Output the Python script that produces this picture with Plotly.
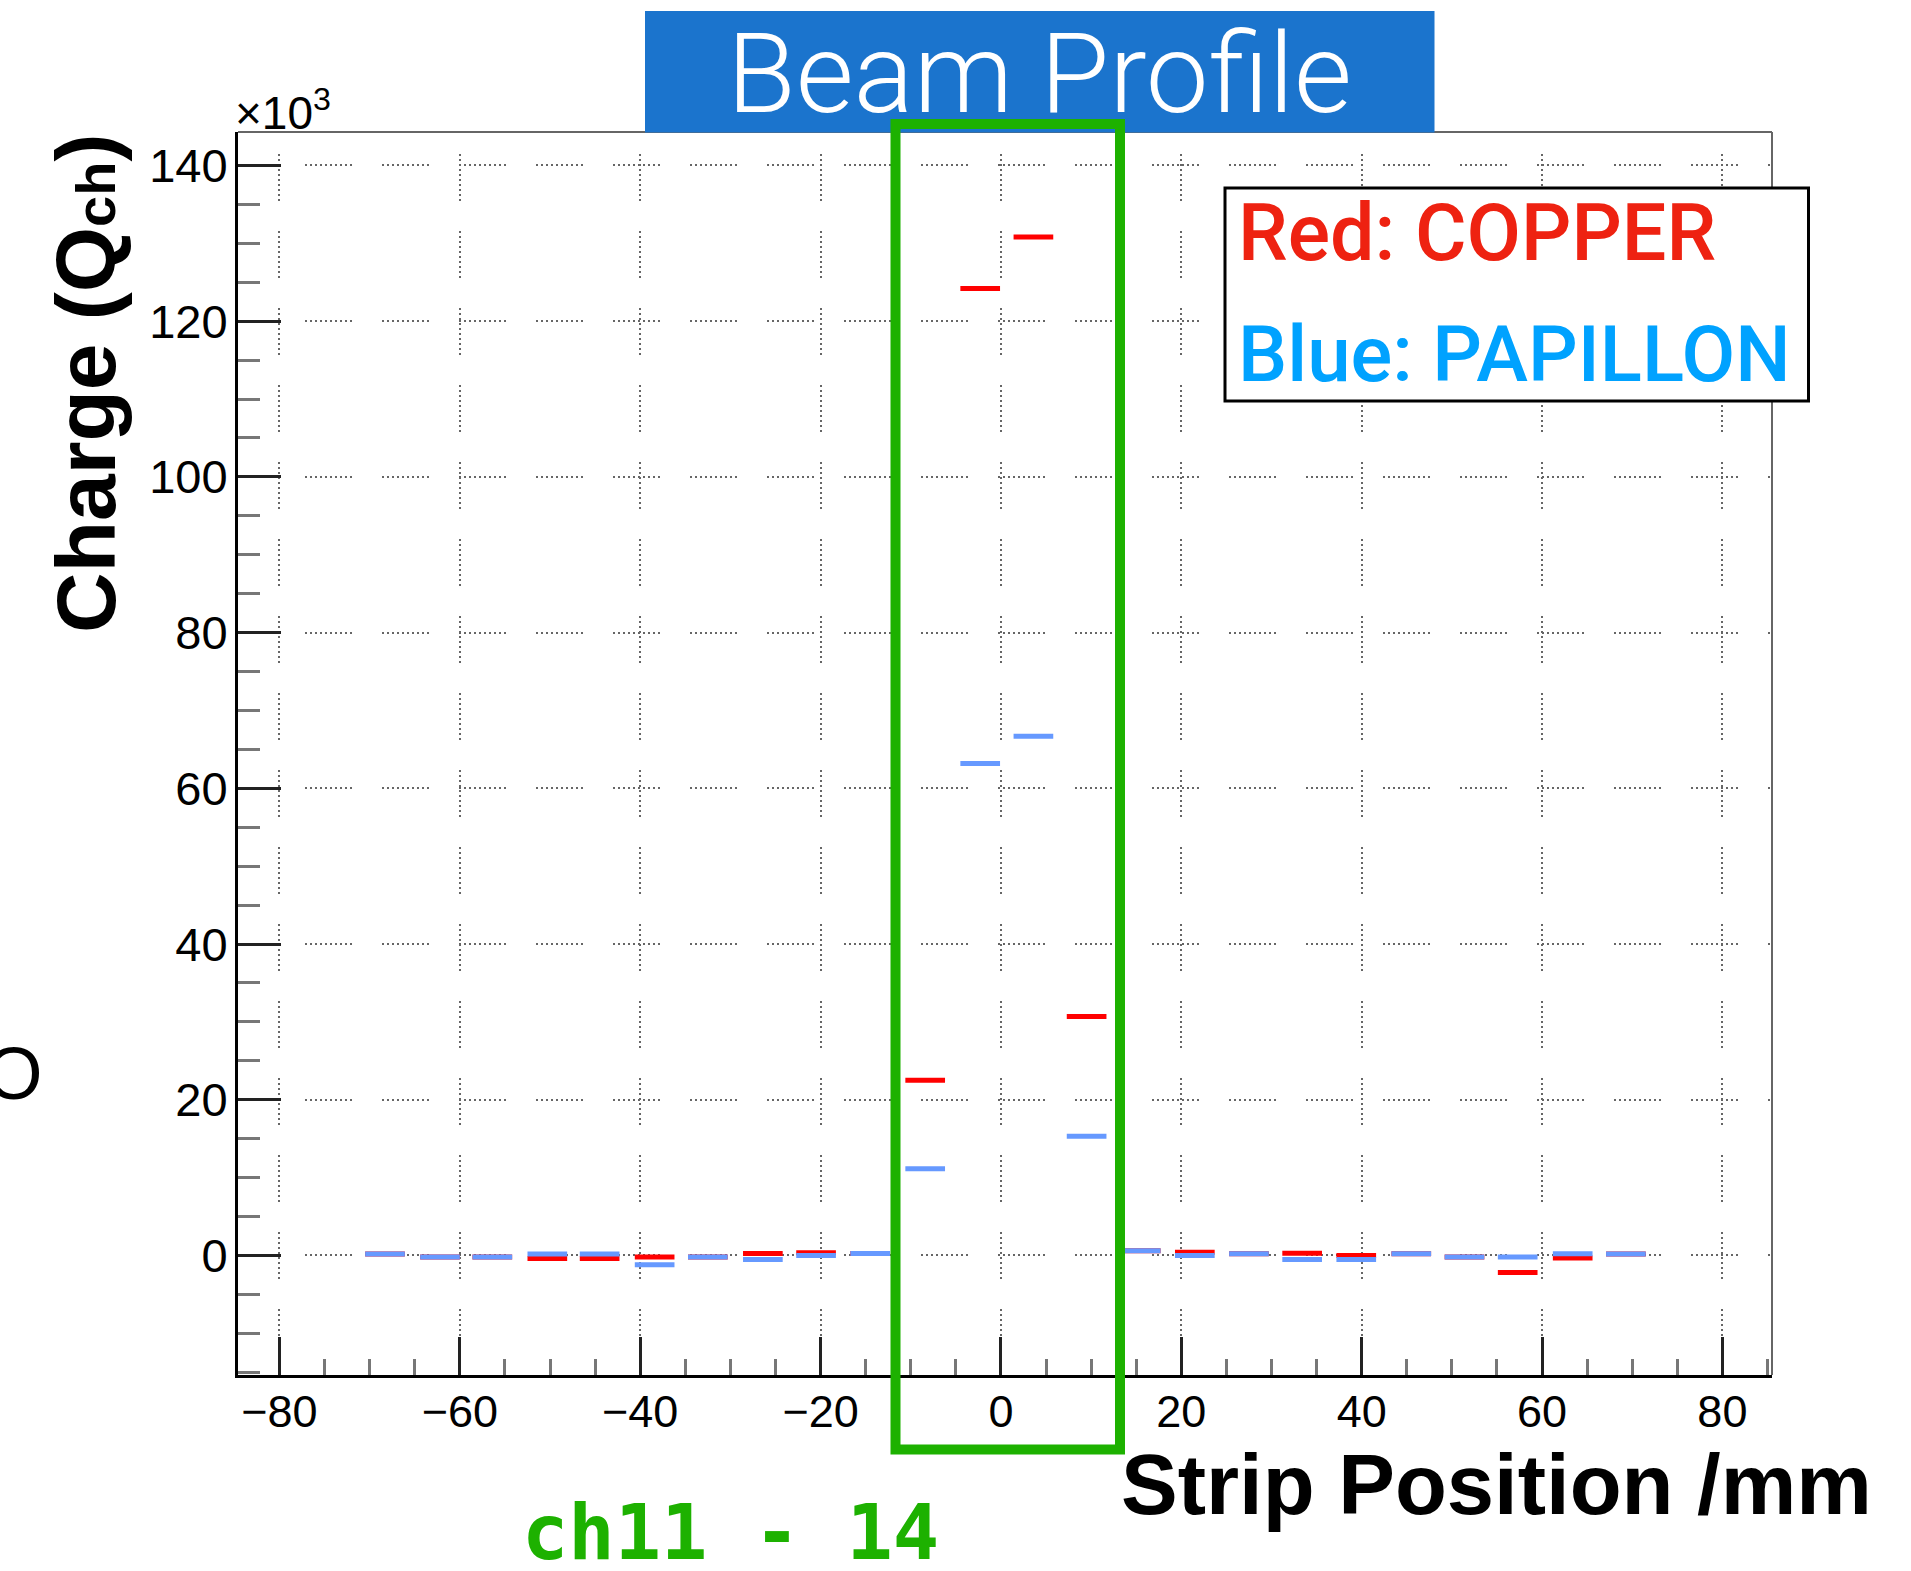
import plotly.graph_objects as go

# ---------------- data ----------------
strip_pos = [-68.3, -62.2, -56.4, -50.3, -44.5, -38.4, -32.5, -26.4, -20.5, -14.5,
             -8.4, -2.3, 3.6, 9.5, 15.5, 21.5, 27.5, 33.4, 39.4, 45.5,
             51.4, 57.3, 63.4, 69.3]
copper_q = [0.2, -0.2, -0.2, -0.4, -0.4, -0.2, -0.2, 0.25, 0.35, 0.25,
            22.5, 124.2, 130.8, 30.7, 0.6, 0.4, 0.23, 0.28, 0.0, 0.23,
            -0.2, -2.2, -0.33, 0.2]
papillon_q = [0.2, -0.2, -0.2, 0.2, 0.2, -1.2, -0.2, -0.5, 0.0, 0.25,
              11.15, 63.2, 66.7, 15.3, 0.6, 0.0, 0.23, -0.5, -0.5, 0.23,
              -0.2, -0.2, 0.23, 0.2]
strip_halfwidth = 2.2
x_ticks = [-80, -60, -40, -20, 0, 20, 40, 60, 80]
y_ticks = [0, 20, 40, 60, 80, 100, 120, 140]

# ---------------- geometry ----------------
W, H = 1911, 1571
L, R, T, B = 238, 139, 132, 196
PW, PH = W - L - R, H - T - B


def px(x):
    return (x - L) / PW


def py(y):
    return 1 - (y - T) / PH


def segments(centers, values, hw):
    xs, ys = [], []
    for c, v in zip(centers, values):
        xs += [c - hw, c + hw, None]
        ys += [v, v, None]
    return xs, ys


# ROOT-like dotted grid patterns (groups of dots)
def dots(n):
    return ["2px", "3px"] * n


h_pat = dots(7) + ["2px", "30px"] + dots(2)
h_dash = ",".join(h_pat)
v_pat = ["0px", "22px"] + dots(9) + ["2px", "8px"]
v_dash = ",".join(v_pat)

FONT = "Liberation Sans, Arial, Helvetica, sans-serif"

fig = go.Figure()
cx, cy = segments(strip_pos, copper_q, strip_halfwidth)
bx, by = segments(strip_pos, papillon_q, strip_halfwidth)
fig.add_trace(go.Scatter(x=cx, y=cy, mode="lines", line=dict(color="#ff0000", width=5),
                         name="COPPER", showlegend=False, hoverinfo="skip"))
fig.add_trace(go.Scatter(x=bx, y=by, mode="lines", line=dict(color="#6699ff", width=5),
                         name="PAPILLON", showlegend=False, hoverinfo="skip"))

fig.update_layout(
    width=W, height=H, autosize=False,
    margin=dict(l=L, r=R, t=T, b=B, pad=0),
    paper_bgcolor="white", plot_bgcolor="white",
    showlegend=False,
    font=dict(family=FONT, color="black"),
)

fig.update_xaxes(
    range=[-84.6, 85.5], tickmode="array", tickvals=x_ticks,
    ticktext=[("\u2212" + str(-v)) if v < 0 else str(v) for v in x_ticks],
    ticks="inside", ticklen=38, tickwidth=3, tickcolor="#222",
    showline=True, linecolor="black", linewidth=3, mirror=False,
    showgrid=True, gridcolor="#666666", gridwidth=2, griddash=v_dash,
    zeroline=False, tickfont=dict(size=45, family=FONT, color="black"),
    ticklabelstandoff=-5,
    minor=dict(dtick=5, tick0=0, ticks="inside", ticklen=16, tickwidth=3,
               tickcolor="#777", showgrid=False),
)
fig.update_yaxes(
    range=[-15.35, 144.3], tickmode="array", tickvals=y_ticks,
    ticks="inside", ticklen=43, tickwidth=3, tickcolor="#222",
    showline=True, linecolor="black", linewidth=3, mirror=False,
    showgrid=True, gridcolor="#666666", gridwidth=2, griddash=h_dash,
    zeroline=False, tickfont=dict(size=47, family=FONT, color="black"),
    ticklabelstandoff=-2,
    minor=dict(dtick=5, tick0=0, ticks="inside", ticklen=22, tickwidth=3,
               tickcolor="#777", showgrid=False),
)

shapes = [
    # frame top and right (grey)
    dict(type="line", xref="paper", yref="paper", x0=0, x1=1, y0=1, y1=1,
         line=dict(color="#666", width=2), layer="above"),
    dict(type="line", xref="paper", yref="paper", x0=1, x1=1, y0=0, y1=1,
         line=dict(color="#666", width=2), layer="above"),
    # title banner
    dict(type="rect", xref="paper", yref="paper", x0=px(645), x1=px(1434.5),
         y0=py(132.5), y1=py(11), fillcolor="#1B74CD", line=dict(width=0), layer="above"),
    # legend box
    dict(type="rect", xref="paper", yref="paper", x0=px(1225), x1=px(1808.5),
         y0=py(401), y1=py(188), fillcolor="white", line=dict(color="black", width=3),
         layer="above"),
    # green highlight box
    dict(type="rect", xref="paper", yref="paper", x0=px(895.5), x1=px(1120),
         y0=py(1449.5), y1=py(124), fillcolor="rgba(0,0,0,0)",
         line=dict(color="#1DB100", width=10), layer="above"),
]
fig.update_layout(shapes=shapes)

ann = [
    dict(text="Beam Profile", x=px(1039.5), y=py(73.7), xanchor="center", yanchor="middle",
         font=dict(family="Roboto, Liberation Sans, sans-serif", size=112, color="white", weight=300)),
    dict(text="Red: COPPER", x=px(1236), y=py(233.4), xanchor="left", yanchor="middle",
         font=dict(family="Roboto, Liberation Sans, sans-serif", size=79, color="#EE2211", weight=500)),
    dict(text="Blue: PAPILLON", x=px(1236), y=py(354.9), xanchor="left", yanchor="middle",
         font=dict(family="Roboto, Liberation Sans, sans-serif", size=78, color="#00A2FF", weight=500)),
    dict(text="\u00d710<sup>3</sup>", x=px(233), y=py(110), xanchor="left", yanchor="middle",
         font=dict(family=FONT, size=46, color="black")),
    dict(text="Charge (Q<span style=\"font-size:56px\">ch</span>)", textangle=-90,
         x=px(86), y=py(384), xanchor="center", yanchor="middle",
         font=dict(family=FONT, size=84, color="black", weight="bold")),
    dict(text="Strip Position /mm", x=px(1874), y=py(1484), xanchor="right", yanchor="middle",
         font=dict(family=FONT, size=85, color="black", weight="bold")),
    dict(text="ch11 - 14", x=px(520), y=py(1532), xanchor="left", yanchor="middle",
         font=dict(family="DejaVu Sans Mono, monospace", size=77, color="#1DB100", weight="bold")),
    dict(text="O", x=px(-17), y=py(1073.5), xanchor="left", yanchor="middle",
         font=dict(family=FONT, size=74, color="black")),
]
for a in ann:
    a.update(xref="paper", yref="paper", showarrow=False)
fig.update_layout(annotations=ann)

fig.write_html(
    "out.html",
    config={"displayModeBar": False},
    post_script="document.body.style.margin='0px';document.body.style.padding='0px';"
                "document.body.style.overflow='hidden';",
)
